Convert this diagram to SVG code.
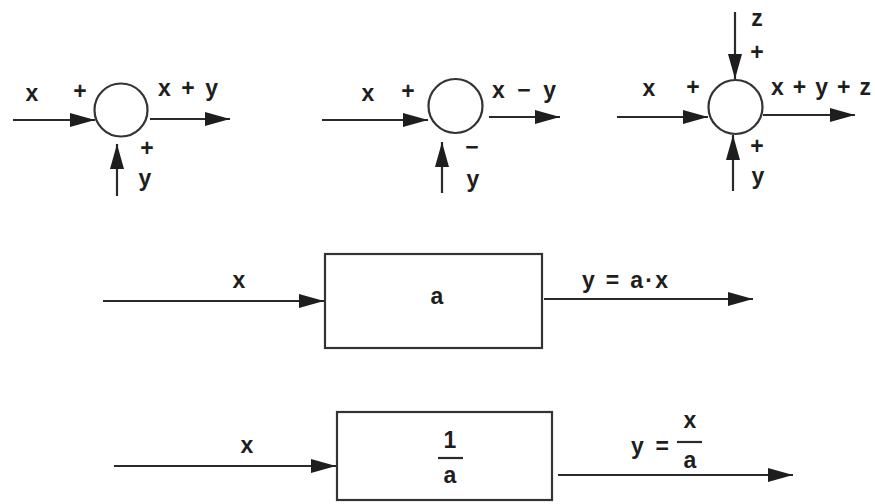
<svg xmlns="http://www.w3.org/2000/svg" width="875" height="504" viewBox="0 0 875 504">
<defs>
<marker id="ah" markerUnits="userSpaceOnUse" markerWidth="26" markerHeight="16" refX="25" refY="8" orient="auto">
<path d="M0,1 L25,8 L0,15 Z" fill="#1e1e1e"/>
</marker>
<style>
.ln{stroke:#2a2a2a;stroke-width:2.2;fill:none}
.ar{stroke:#2a2a2a;stroke-width:2.2;fill:none;marker-end:url(#ah)}
.nd{stroke:#333;stroke-width:2.2;fill:#fff}
.t{font-family:"Liberation Sans",Arial,sans-serif;font-weight:bold;font-size:23px;fill:#1e1e1e;text-anchor:middle}
.s{font-family:"Liberation Sans",Arial,sans-serif;font-weight:bold;font-size:23px;fill:#1e1e1e;text-anchor:start}
</style>
</defs>
<rect width="875" height="504" fill="#fff"/>

<g id="sum1">
<circle class="nd" cx="121" cy="110" r="26.5"/>
<text class="t" x="32" y="101">x</text>
<text class="t" x="80" y="99">+</text>
<text class="s" x="158" y="96" textLength="60" lengthAdjust="spacing">x + y</text>
<text class="t" x="147" y="156">+</text>
<text class="t" x="145" y="186">y</text>
</g>

<g id="sum2">
<circle class="nd" cx="455.5" cy="106" r="27"/>
<text class="t" x="368" y="101">x</text>
<text class="t" x="408" y="99">+</text>
<text class="s" x="492" y="98" textLength="64" lengthAdjust="spacing">x − y</text>
<text class="t" x="472" y="155">−</text>
<text class="t" x="473" y="187">y</text>
</g>

<g id="sum3">
<circle class="nd" cx="735.5" cy="107" r="27"/>
<text class="t" x="757" y="26">z</text>
<text class="t" x="757" y="60">+</text>
<text class="t" x="649" y="96">x</text>
<text class="t" x="693" y="95">+</text>
<text class="s" x="771" y="95" textLength="100" lengthAdjust="spacing">x + y + z</text>
<text class="t" x="757" y="154">+</text>
<text class="t" x="758" y="184">y</text>
</g>

<g id="gain">
<rect class="nd" x="325" y="254" width="217" height="94"/>
<text class="t" x="437" y="304">a</text>
<text class="t" x="239" y="288">x</text>
<text class="s" x="582" y="288" textLength="86" lengthAdjust="spacing">y = a·x</text>
</g>

<g id="inverse">
<rect class="nd" x="337" y="412" width="215" height="88"/>
<text class="t" x="450" y="448">1</text>
<line class="ln" x1="438" y1="458" x2="463" y2="458"/>
<text class="t" x="450" y="483">a</text>
<text class="t" x="247" y="453">x</text>
<text class="s" x="631" y="454" textLength="38" lengthAdjust="spacing">y =</text>
<text class="t" x="690" y="428">x</text>
<line class="ln" x1="677" y1="442" x2="702" y2="442"/>
<text class="t" x="690" y="468">a</text>
</g>

<g id="connectors">
<line class="ar" x1="13" y1="120" x2="95" y2="120"/>
<line class="ar" x1="150" y1="119" x2="230" y2="119"/>
<line class="ar" x1="117" y1="196" x2="117" y2="144"/>

<line class="ar" x1="322" y1="120" x2="428" y2="120"/>
<line class="ar" x1="489" y1="117" x2="560" y2="117"/>
<line class="ar" x1="442" y1="193" x2="442" y2="142"/>

<line class="ar" x1="617" y1="117" x2="708" y2="117"/>
<line class="ar" x1="763" y1="115" x2="855" y2="115"/>
<line class="ar" x1="735" y1="12" x2="735" y2="79"/>
<line class="ar" x1="733" y1="191" x2="733" y2="135"/>

<line class="ar" x1="103" y1="301" x2="324" y2="301"/>
<line class="ar" x1="544" y1="299" x2="753" y2="299"/>

<line class="ar" x1="114" y1="466" x2="336" y2="466"/>
<line class="ar" x1="558" y1="475" x2="793" y2="475"/>
</g>
</svg>
